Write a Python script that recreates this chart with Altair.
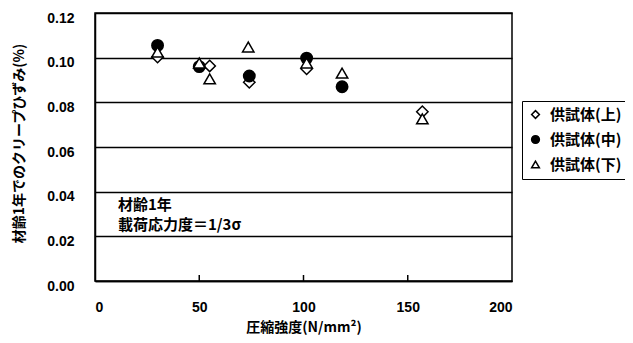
import altair as alt
import pandas as pd

# --- data ---
series_names = ["供試体(上)", "供試体(中)", "供試体(下)"]
series_shapes = ["diamond", "circle", "triangle-up"]
series_fills = ["white", "black", "white"]

upper_x = [30, 55, 74, 101.5, 157]
upper_y = [0.1003, 0.0963, 0.0890, 0.0950, 0.0758]

middle_x = [30, 50, 74, 101.5, 118.5]
middle_y = [0.1055, 0.0960, 0.0918, 0.0998, 0.0870]

lower_x = [30, 50, 55, 73.5, 101.5, 118.5, 157]
lower_y = [0.1025, 0.0976, 0.0905, 0.1048, 0.0976, 0.0931, 0.0726]

x_ticks = [0, 50, 100, 150, 200]
y_ticks = [0.00, 0.02, 0.04, 0.06, 0.08, 0.10, 0.12]
inner_ticks = [50, 100, 150]

note_lines = ["材齢1年", "載荷応力度＝1/3σ"]
note_x = [11, 11]
note_y = [0.0340, 0.0250]

FONT = "Noto Sans CJK JP"
NUMFONT = "Liberation Sans"

rows = []
for name, xs, ys in zip(series_names, [upper_x, middle_x, lower_x], [upper_y, middle_y, lower_y]):
    for a, b in zip(xs, ys):
        rows.append({"s": name, "x": a, "y": b})
df = pd.DataFrame(rows)
df["o"] = df["s"].map({n: i for i, n in enumerate(series_names)})

xscale = alt.Scale(domain=[0, 200], nice=False, zero=True)
yscale = alt.Scale(domain=[0, 0.12], nice=False, zero=True)

legend = alt.Legend(
    title=None, orient="none", legendX=427, legendY=88,
    strokeColor="black", padding=6, rowPadding=9,
    symbolSize=60, symbolStrokeWidth=1.5, symbolStrokeColor="black",
    labelLimit=200, labelOffset=7,
    labelFont=FONT, labelFontSize=15, labelFontWeight="bold", labelColor="black",
)

points = alt.Chart(df).mark_point(
    filled=True, strokeWidth=1.5, size=130, opacity=1
).encode(
    x=alt.X("x:Q", scale=xscale,
            axis=alt.Axis(values=x_ticks, grid=False, ticks=False, tickSize=0,
                          labelPadding=19, format="d",
                          title="圧縮強度(N/mm²)", titleY=53, titleBaseline="bottom")),
    y=alt.Y("y:Q", scale=yscale,
            axis=alt.Axis(values=y_ticks, grid=True, ticks=False, tickSize=0,
                          labelPadding=21, labelOffset=5, format=".2f",
                          title="材齢1年でのクリープひずみ(%)", titleX=-76, titleY=130,
                          titleBaseline="middle", titleAngle=-90)),
    shape=alt.Shape("s:N", sort=series_names,
                    scale=alt.Scale(domain=series_names, range=series_shapes), legend=legend),
    fill=alt.Fill("s:N", sort=series_names,
                  scale=alt.Scale(domain=series_names, range=series_fills), legend=legend),
    stroke=alt.Stroke("s:N", sort=series_names,
                      scale=alt.Scale(domain=series_names, range=["black", "black", "black"]),
                      legend=legend),
    order=alt.Order("o:Q"),
)

ticks_df = pd.DataFrame({"x": inner_ticks})
inner = alt.Chart(ticks_df).mark_rule(color="black", strokeWidth=1.5).encode(
    x=alt.X("x:Q", scale=xscale),
    y=alt.value(268),
    y2=alt.value(262),
)

note_df = pd.DataFrame({"t": note_lines, "x": note_x, "y": note_y})
note = alt.Chart(note_df).mark_text(
    align="left", baseline="middle", font=FONT, fontSize=15, fontWeight="bold", color="black"
).encode(
    x=alt.X("x:Q", scale=xscale),
    y=alt.Y("y:Q", scale=yscale),
    text="t:N",
)

chart = alt.layer(inner, points, note).properties(
    width=417, height=268,
    autosize=alt.AutoSizeParams(type="none"),
    padding={"left": 87, "top": 5, "right": 113, "bottom": 54},
    background="white",
).configure_view(
    stroke="black", strokeWidth=1.5
).configure_axis(
    domainColor="black", domainWidth=1.5, gridColor="black", gridWidth=1.5, gridOpacity=1,
    labelFont=NUMFONT, labelFontSize=14, labelFontWeight="bold", labelColor="black",
    titleFont=FONT, titleFontSize=14, titleFontWeight="bold", titleColor="black",
)

chart.save("out.html", embed_options={"renderer": "svg", "actions": False})
